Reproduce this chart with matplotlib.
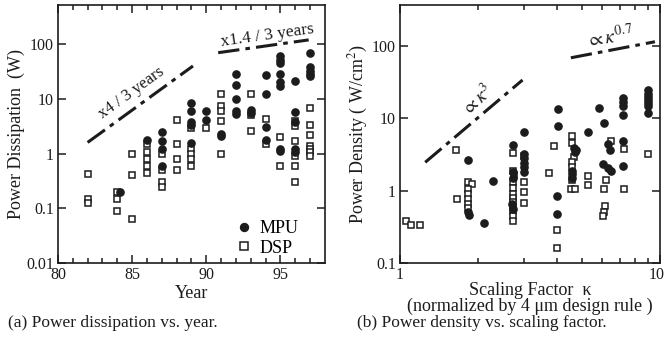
import matplotlib
matplotlib.use("Agg")
import matplotlib.pyplot as plt
import matplotlib.transforms as mtransforms
from matplotlib.ticker import FixedLocator, NullFormatter, NullLocator

# ---------------- data: panel (a) ----------------
mpu_year = [84.2, 86, 87, 87, 87, 87, 89, 89, 89, 89, 89, 90, 90, 91, 91,
            92, 92, 92, 92, 92, 93, 93, 94, 94, 94, 94,
            95, 95, 95, 95, 95, 95, 95, 95, 96, 96, 96, 96, 96,
            97, 97, 97, 97, 97]
mpu_power = [0.2, 1.75, 2.5, 1.7, 1.2, 0.6, 8.5, 6.0, 3.8, 3.3, 1.55, 6.0, 4.2, 2.3, 2.1,
             29, 18, 10, 6.0, 5.2, 6.2, 5.5, 27, 12.5, 3.1, 1.8,
             60, 52, 45, 28, 20, 17, 1.2, 1.1, 21, 5.7, 3.8, 1.2, 1.05,
             68, 38, 33, 29, 26]
dsp_year = [82, 82, 82, 84, 84, 84, 85, 85, 85, 86, 86, 86, 86, 86,
            87, 87, 87, 87, 88, 88, 88, 88, 89, 89, 89, 89, 89, 90,
            91, 91, 91, 91, 91, 93, 93, 93, 94, 94, 95, 95,
            96, 96, 96, 96, 96, 96, 97, 97, 97, 97, 97, 97, 97]
dsp_power = [0.42, 0.15, 0.125, 0.2, 0.15, 0.09, 1.0, 0.4, 0.065, 1.5, 1.05, 0.8, 0.6, 0.45,
             1.0, 0.5, 0.3, 0.25, 4.2, 1.5, 0.8, 0.5, 3.0, 1.2, 1.0, 0.8, 0.6, 3.0,
             12.5, 7.5, 6.0, 4.0, 1.0, 12.5, 5.0, 2.6, 4.3, 1.5, 2.0, 0.6,
             4.0, 3.2, 1.7, 0.9, 0.6, 0.3, 6.8, 3.3, 2.2, 1.4, 1.2, 1.05, 0.9]
trend_a1_year = [82.0, 89.1]
trend_a1_power = [1.6, 40]
trend_a2_year = [90.8, 96.9]
trend_a2_power = [70, 120]

# ---------------- data: panel (b) ----------------
mpu_kappa = [1.83, 1.83, 1.85, 2.1, 2.27,
             2.72, 2.72, 2.72, 2.70, 2.72,
             3.0, 3.0, 3.0, 3.0, 3.0, 3.0,
             4.05, 4.05, 4.0, 4.0,
             4.65, 4.75, 4.7, 4.6, 4.6, 4.6,
             5.3,
             5.85, 6.1, 6.3, 6.4, 6.05, 6.3, 6.5,
             7.2, 7.2, 7.2, 7.2, 7.2, 7.2,
             9.0, 9.0, 9.0, 9.0, 9.0, 9.0, 9.0]
mpu_density = [2.7, 0.5, 0.46, 0.36, 1.35,
               4.3, 1.8, 1.5, 0.65, 0.55,
               6.5, 3.2, 2.8, 2.4, 2.1, 1.8,
               13.5, 7.8, 0.85, 0.48,
               3.9, 3.6, 3.4, 1.9, 1.7, 1.5,
               6.4,
               14, 8.6, 4.4, 3.6, 2.35, 2.05, 1.9,
               19, 17, 15, 11.2, 4.9, 2.2,
               25, 22, 20, 18, 16.5, 15, 12]
dsp_kappa = [1.05, 1.1, 1.19,
             1.64, 1.65,
             1.83, 1.89, 1.83, 1.83, 1.83, 1.83, 1.83,
             2.72, 2.72, 2.75, 2.72, 2.72, 2.72, 2.72, 2.72, 2.72, 2.72, 2.72, 2.72,
             3.0, 3.0, 3.0, 3.0,
             3.75, 3.9,
             4.0, 4.0,
             4.57, 4.57, 4.65, 4.6, 4.6, 4.6, 4.55, 4.7,
             5.3, 5.3,
             6.5, 6.2, 6.1, 6.15, 6.1, 6.05,
             7.25, 7.25,
             9.0]
dsp_density = [0.38, 0.33, 0.33,
               3.6, 0.77,
               1.3, 1.25, 1.05, 0.9, 0.77, 0.65, 0.58,
               3.3, 1.9, 1.65, 1.3, 1.1, 0.9, 0.8, 0.7, 0.6, 0.52, 0.45, 0.38,
               3.0, 1.3, 0.95, 0.68,
               1.74, 4.1,
               0.29, 0.16,
               5.8, 4.5, 2.9, 2.5, 2.1, 1.4, 1.05, 1.05,
               1.6, 1.2,
               4.8, 1.4, 1.05, 0.62, 0.5, 0.45,
               3.8, 1.05,
               3.2]
trend_b1_kappa = [1.25, 2.96]
trend_b1_density = [2.47, 34]
trend_b2_kappa = [4.54, 9.56]
trend_b2_density = [69, 115]

# ---------------- style ----------------
plt.rcParams['font.family'] = ['Liberation Serif', 'DejaVu Serif']
plt.rcParams['mathtext.fontset'] = 'stix'
INK = '#1c1c1c'
TICK_FS = 11.5
LABEL_FS = 13
DASH = (0, (7, 2, 1.5, 2))

fig = plt.figure(figsize=(6.66, 3.38), dpi=100)
axa = fig.add_axes([0.087, 0.222, 0.401, 0.763])
axb = fig.add_axes([0.6006, 0.222, 0.3904, 0.763])

def style_axis(ax):
    for s in ax.spines.values():
        s.set_linewidth(1.2)
        s.set_color(INK)
    ax.tick_params(which='both', direction='in', top=True, right=True,
                   colors=INK, labelsize=TICK_FS, width=1.1)
    ax.tick_params(which='major', length=6, pad=3)
    ax.tick_params(which='minor', length=3.5)

# ---------------- panel (a) ----------------
axa.set_yscale('log')
axa.set_xlim(80, 98)
axa.set_ylim(0.01, 520)
axa.plot(mpu_year, mpu_power, 'o', ms=5.2, color=INK, mec=INK, label='MPU', zorder=3)
axa.plot(dsp_year, dsp_power, 's', ms=4.6, mfc='white', mec=INK, mew=1.1,
         label='DSP', zorder=2)
axa.plot(trend_a1_year, trend_a1_power, color=INK, lw=2.2, ls=DASH)
axa.plot(trend_a2_year, trend_a2_power, color=INK, lw=2.2, ls=DASH)
axa.text(84.95, 12.8, 'x4 / 3 years', rotation=36, fontsize=12, color=INK,
         ha='center', va='center')
axa.text(94.1, 142, 'x1.4 / 3 years', rotation=8, fontsize=12.5, color=INK,
         ha='center', va='center')
axa.set_xticks([80, 85, 90, 95])
axa.set_xticklabels(['80', '85', '90', '95'])
axa.xaxis.set_minor_locator(FixedLocator(list(range(81, 98))))
axa.set_yticks([0.01, 0.1, 1, 10, 100])
axa.set_yticklabels(['0.01', '0.1', '1', '10', '100'])
axa.yaxis.set_minor_locator(NullLocator())
axa.set_xlabel('Year', fontsize=LABEL_FS, color=INK, labelpad=1)
axa.set_ylabel('Power Dissipation  (W)', fontsize=LABEL_FS, color=INK, labelpad=1)
style_axis(axa)
axa.legend(loc='lower left', bbox_to_anchor=(0.655, 0.01), frameon=False,
           fontsize=13, handlelength=0.8, handletextpad=0.5, markerscale=1.1,
           labelspacing=0.15, borderpad=0.2, borderaxespad=0.0)

# ---------------- panel (b) ----------------
axb.set_xscale('log')
axb.set_yscale('log')
axb.set_xlim(1, 10)
axb.set_ylim(0.1, 370)
axb.plot(mpu_kappa, mpu_density, 'o', ms=5.2, color=INK, mec=INK, zorder=3)
axb.plot(dsp_kappa, dsp_density, 's', ms=4.6, mfc='white', mec=INK, mew=1.1, zorder=2)
axb.plot(trend_b1_kappa, trend_b1_density, color=INK, lw=2.2, ls=DASH)
axb.plot(trend_b2_kappa, trend_b2_density, color=INK, lw=2.2, ls=DASH)
axb.text(1.99, 18, r'$\propto\kappa^{3}$', rotation=42, fontsize=13.5, color=INK,
         ha='center', va='center')
axb.text(6.4, 135, r'$\propto\kappa^{0.7}$', rotation=8, fontsize=14, color=INK,
         ha='center', va='center')
axb.set_xticks([1, 10])
axb.set_xticklabels(['1', '10'])
axb.xaxis.set_minor_locator(FixedLocator([2, 3, 4, 5, 6, 7, 8, 9]))
axb.xaxis.set_minor_formatter(NullFormatter())
axb.set_yticks([0.1, 1, 10, 100])
axb.set_yticklabels(['0.1', '1', '10', '100'])
axb.yaxis.set_minor_locator(NullLocator())
axb.set_xlabel('Scaling Factor  κ\n(normalized by 4 μm design rule )', fontsize=LABEL_FS,
               color=INK, labelpad=-1, linespacing=0.95)
axb.set_ylabel('Power Density ( W/cm$^{2}$)', fontsize=LABEL_FS, color=INK, labelpad=1)
style_axis(axb)
# keep the "10" label inside the canvas (right-aligned, nudged right)
last_lbl = axb.get_xticklabels()[-1]
last_lbl.set_horizontalalignment('right')
last_lbl.set_transform(last_lbl.get_transform() +
                       mtransforms.ScaledTranslation(5 / 100, 0, fig.dpi_scale_trans))

# ---------------- captions ----------------
fig.text(0.012, 0.045, '(a) Power dissipation vs. year.', fontsize=12.5, color=INK,
         ha='left', va='center')
fig.text(0.536, 0.045, '(b) Power density vs. scaling factor.', fontsize=12.5, color=INK,
         ha='left', va='center')

fig.savefig('out.png', dpi=100)
